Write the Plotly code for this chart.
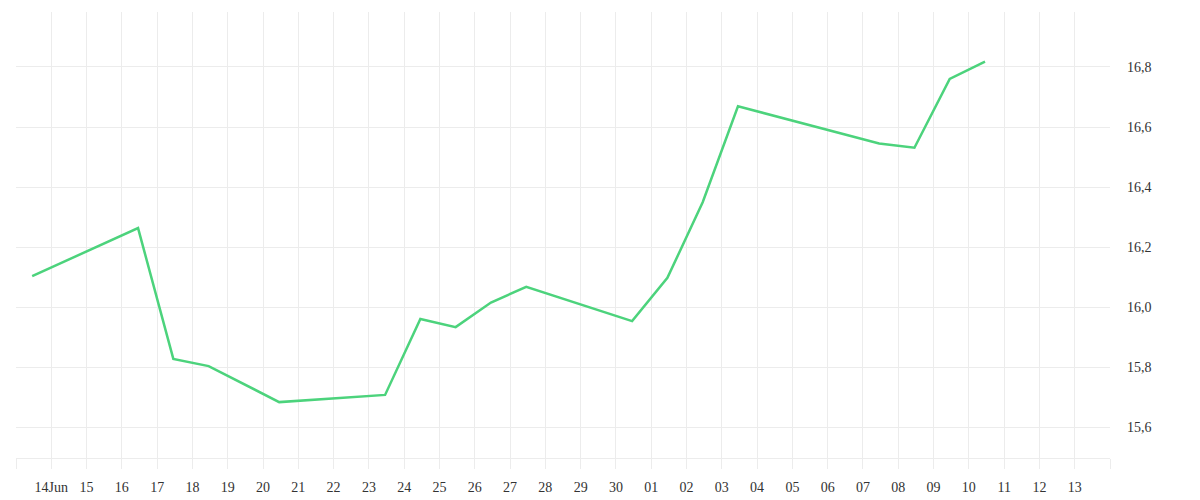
import pandas as pd
import plotly.graph_objects as go

# dates of the points (drawn at 11:00 as in the source) and price values
dates = ["2022-06-13", "2022-06-16", "2022-06-17", "2022-06-18", "2022-06-20",
         "2022-06-23", "2022-06-24", "2022-06-25", "2022-06-26", "2022-06-27",
         "2022-06-30", "2022-07-01", "2022-07-02", "2022-07-03", "2022-07-07",
         "2022-07-08", "2022-07-09", "2022-07-10"]
prices = [16.103, 16.263, 15.827, 15.803, 15.683,
          15.707, 15.960, 15.933, 16.015, 16.067,
          15.953, 16.097, 16.349, 16.669, 16.545,
          16.531, 16.760, 16.818]

tick_days = pd.date_range("2022-06-13", "2022-07-14", freq="D")
tick_text = ["", "14Jun", "15", "16", "17", "18", "19", "20", "21", "22", "23",
             "24", "25", "26", "27", "28", "29", "30", "01", "02", "03", "04",
             "05", "06", "07", "08", "09", "10", "11", "12", "13", ""]
y_ticks = [15.6, 15.8, 16.0, 16.2, 16.4, 16.6, 16.8]

df = pd.DataFrame({"Data": pd.to_datetime(dates) + pd.Timedelta(hours=11),
                   "Precio": prices})

fig = go.Figure()
fig.add_trace(go.Scatter(x=df["Data"], y=df["Precio"], mode="lines",
                         line=dict(color="#4cd37c", width=2.5),
                         hoverinfo="x+y"))

# the page has an 8px body margin, margins below take it into account
fig.update_layout(
    width=1200, height=500,
    margin=dict(l=8, r=98, t=4, b=50),
    plot_bgcolor="white", paper_bgcolor="white",
    showlegend=False,
    separators=",.",
    font=dict(family="'Times New Roman', 'Liberation Serif', serif",
              size=14, color="#333333"),
)
fig.update_xaxes(
    range=["2022-06-13", "2022-07-14"],
    tickmode="array", tickvals=tick_days, ticktext=tick_text,
    showgrid=True, gridcolor="#ececec", gridwidth=1,
    ticks="outside", ticklen=10, tickcolor="#ececec",
    ticklabelstandoff=6,
    showline=True, linecolor="#ececec", linewidth=1,
    zeroline=False,
)
fig.update_yaxes(
    range=[15.4967, 16.9833], side="right",
    tickmode="array", tickvals=y_ticks, tickformat=".1f",
    showgrid=True, gridcolor="#ececec", gridwidth=1,
    ticks="", ticklabelstandoff=16, zeroline=False, showline=False,
)

fig.write_html("out.html")
